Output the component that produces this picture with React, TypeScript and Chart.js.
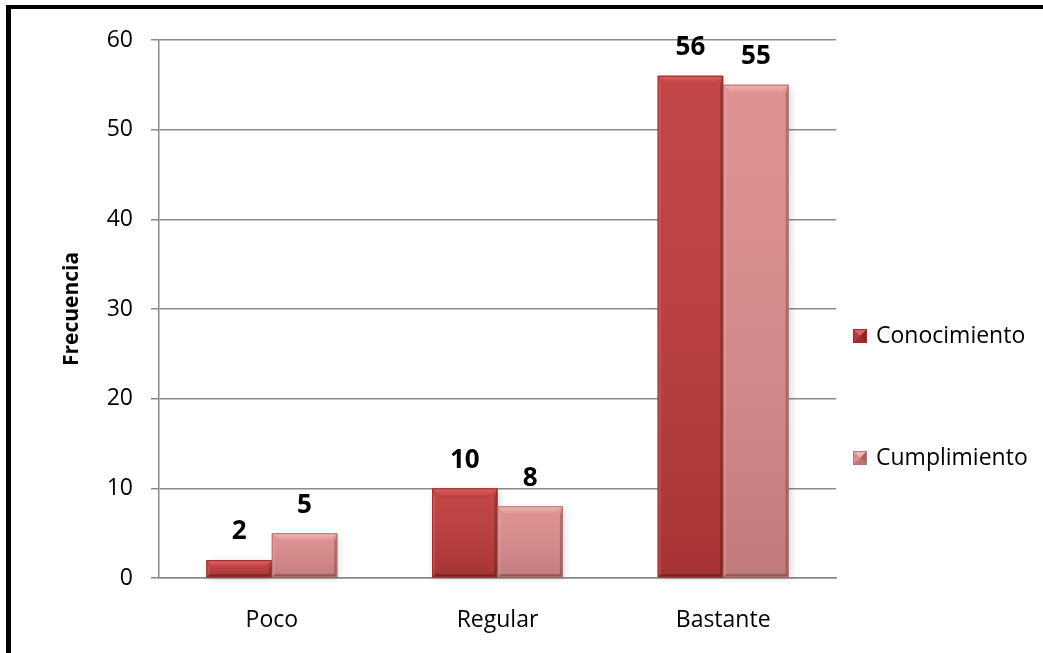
import { useEffect, useRef } from "react";
import { Chart, registerables } from "chart.js";

Chart.register(...registerables);

// Data
const categories = ["Poco", "Regular", "Bastante"];
const conocimiento = [2, 10, 56];
const cumplimiento = [5, 8, 55];
const seriesNames = ["Conocimiento", "Cumplimiento"];
const yMin = 0;
const yMax = 60;
const yStep = 10;
const axisTitle = "Frecuencia";

const FONT = "'Open Sans', 'Noto Sans', sans-serif";

// Per-series palette: face, bevel highlight, bevel shadow
const palette = [
  { face: "#BE3A3A", light: "#DC6464", dark: "#8A2828", edge: "#9A2E2E" },
  { face: "#DE8C8C", light: "#F2B6B6", dark: "#A66565", edge: "#B87676" },
];

type BarBox = { x: number; y: number; base: number; width: number };

function barBoxes(chart: any, di: number): BarBox[] {
  return chart
    .getDatasetMeta(di)
    .data.map((el: any) => el.getProps(["x", "y", "base", "width"], true));
}

function poly(ctx: CanvasRenderingContext2D, pts: number[][], fill: string | CanvasGradient) {
  ctx.beginPath();
  ctx.moveTo(pts[0][0], pts[0][1]);
  for (let i = 1; i < pts.length; i++) ctx.lineTo(pts[i][0], pts[i][1]);
  ctx.closePath();
  ctx.fillStyle = fill;
  ctx.fill();
}

// Soft drop shadow under each bar, then bevel shading on top of the bar faces
const bevelPlugin = {
  id: "bevelBars",
  beforeDatasetsDraw(chart: any) {
    const ctx: CanvasRenderingContext2D = chart.ctx;
    ctx.save();
    chart.data.datasets.forEach((_: any, di: number) => {
      barBoxes(chart, di).forEach(({ x, y, base, width }) => {
        const l = x - width / 2;
        ctx.shadowColor = "rgba(0,0,0,0.45)";
        ctx.shadowBlur = 7;
        ctx.shadowOffsetX = 2;
        ctx.shadowOffsetY = 2;
        ctx.fillStyle = "rgba(0,0,0,0.35)";
        ctx.fillRect(l, y, width, base - y);
      });
    });
    ctx.restore();
  },
  afterDatasetsDraw(chart: any) {
    const ctx: CanvasRenderingContext2D = chart.ctx;
    ctx.save();
    chart.data.datasets.forEach((_: any, di: number) => {
      const c = palette[di];
      barBoxes(chart, di).forEach(({ x, y, base, width }) => {
        const l = x - width / 2;
        const r = x + width / 2;
        const h = base - y;
        // vertical shading of the face
        const g = ctx.createLinearGradient(0, y, 0, base);
        g.addColorStop(0, "rgba(255,255,255,0.06)");
        g.addColorStop(1, "rgba(0,0,0,0.13)");
        ctx.fillStyle = g;
        ctx.fillRect(l, y, width, h);

        const bt = Math.min(9, h / 2);
        const bs = Math.min(3, h / 2);
        // top bevel
        const tg = ctx.createLinearGradient(0, y, 0, y + bt);
        tg.addColorStop(0, c.light);
        tg.addColorStop(1, c.face);
        poly(ctx, [[l, y], [r, y], [r - bt, y + bt], [l + bt, y + bt]], tg);
        // left bevel
        poly(ctx, [[l, y], [l + bs, y + bt], [l + bs, base - bs], [l, base]], "rgba(255,255,255,0.12)");
        // right bevel
        poly(ctx, [[r, y], [r - bs, y + bt], [r - bs, base - bs], [r, base]], "rgba(0,0,0,0.22)");
        // bottom bevel
        poly(ctx, [[l, base], [l + bs, base - bs], [r - bs, base - bs], [r, base]], "rgba(0,0,0,0.28)");
        // outline
        ctx.strokeStyle = c.edge;
        ctx.lineWidth = 1;
        ctx.strokeRect(l + 0.5, y + 0.5, width - 1, h - 1);
      });
    });
    ctx.restore();
  },
};

// Value labels above each bar
const valueLabelPlugin = {
  id: "valueLabels",
  afterDatasetsDraw(chart: any) {
    const ctx: CanvasRenderingContext2D = chart.ctx;
    ctx.save();
    ctx.font = `bold 26px ${FONT}`;
    ctx.fillStyle = "#000";
    ctx.textAlign = "center";
    ctx.textBaseline = "middle";
    chart.data.datasets.forEach((ds: any, di: number) => {
      barBoxes(chart, di).forEach(({ x, y }, i) => {
        ctx.fillText(String(ds.data[i]), x, y - 28);
      });
    });
    ctx.restore();
  },
};

// Legend on the right with pyramid-style markers
const sideLegendPlugin = {
  id: "sideLegend",
  afterDraw(chart: any) {
    const ctx: CanvasRenderingContext2D = chart.ctx;
    const rows = [336, 458];
    const mx = 853;
    const ms = 14;
    ctx.save();
    chart.data.datasets.forEach((ds: any, di: number) => {
      const c = palette[di];
      const cy = rows[di];
      const t = cy - ms / 2;
      const cx = mx + ms / 2;
      ctx.fillStyle = c.face;
      ctx.fillRect(mx, t, ms, ms);
      poly(ctx, [[mx, t], [mx + ms, t], [cx, cy]], c.light);
      poly(ctx, [[mx + ms, t], [mx + ms, t + ms], [cx, cy]], c.dark);
      poly(ctx, [[mx, t + ms], [mx + ms, t + ms], [cx, cy]], c.edge);
      poly(ctx, [[mx, t], [mx, t + ms], [cx, cy]], c.face);
      ctx.strokeStyle = c.edge;
      ctx.lineWidth = 1;
      ctx.strokeRect(mx + 0.5, t + 0.5, ms - 1, ms - 1);
      ctx.font = `23px ${FONT}`;
      ctx.fillStyle = "#000";
      ctx.textAlign = "left";
      ctx.textBaseline = "middle";
      ctx.fillText(ds.label, 876, cy);
    });
    ctx.restore();
  },
};

export default function App() {
  const canvasRef = useRef<HTMLCanvasElement | null>(null);

  useEffect(() => {
    if (!canvasRef.current) return;
    const chart = new Chart(canvasRef.current, {
      type: "bar",
      data: {
        labels: categories,
        datasets: [
          { label: seriesNames[0], data: conocimiento, backgroundColor: palette[0].face, borderWidth: 0 },
          { label: seriesNames[1], data: cumplimiento, backgroundColor: palette[1].face, borderWidth: 0 },
        ],
      },
      options: {
        animation: false,
        responsive: false,
        devicePixelRatio: 1,
        layout: { padding: { top: 40, right: 207, bottom: 0, left: 0 } },
        datasets: { bar: { categoryPercentage: 0.58, barPercentage: 1 } },
        plugins: { legend: { display: false }, tooltip: { enabled: false } },
        scales: {
          x: {
            grid: { display: false },
            border: { display: true, color: "#8a8a8a", width: 1.5 },
            ticks: { font: { family: FONT, size: 23 }, color: "#000", padding: 21 },
            afterFit: (s: any) => {
              s.height = 75;
            },
          },
          y: {
            min: yMin,
            max: yMax,
            ticks: { stepSize: yStep, font: { family: FONT, size: 23 }, color: "#000", padding: 18 },
            grid: { color: "#8a8a8a", lineWidth: 1.5, tickLength: 8 },
            border: { display: true, color: "#8a8a8a", width: 1.5 },
            title: {
              display: true,
              text: axisTitle,
              font: { family: FONT, size: 21, weight: "bold" },
              color: "#000",
              padding: { top: 59, bottom: 0 },
            },
            afterFit: (s: any) => {
              s.width = 159;
            },
          },
        },
      },
      plugins: [bevelPlugin, valueLabelPlugin, sideLegendPlugin],
    } as any);
    return () => chart.destroy();
  }, []);

  return (
    <div style={{ position: "fixed", left: 0, top: 0, width: 1043, height: 653, background: "#fff", overflow: "hidden" }}>
      <canvas ref={canvasRef} width={1043} height={653} style={{ display: "block" }} />
      <div
        style={{
          position: "absolute",
          left: 6,
          top: 5,
          width: 1100,
          height: 700,
          borderLeft: "5px solid #000",
          borderTop: "4px solid #000",
          pointerEvents: "none",
        }}
      />
    </div>
  );
}
